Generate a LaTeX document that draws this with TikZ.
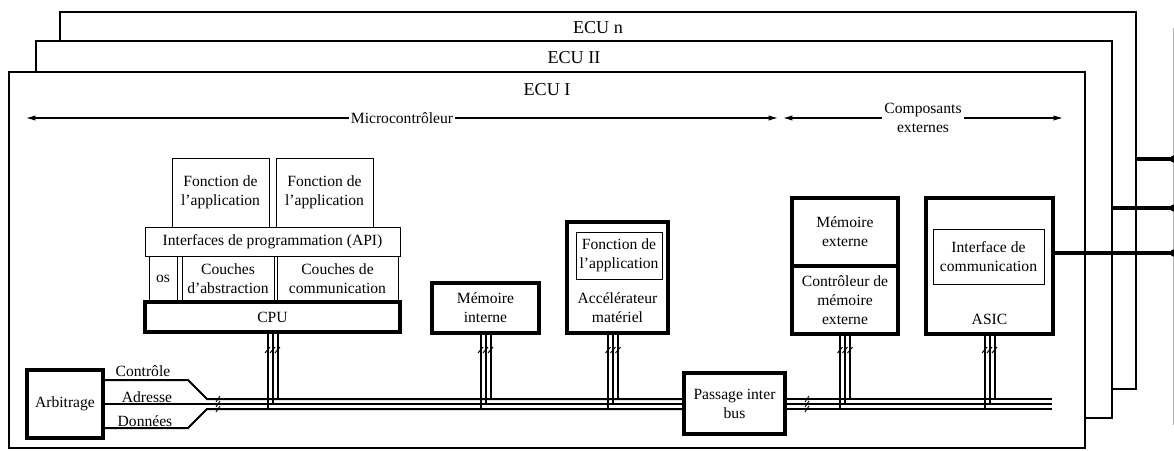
\documentclass[tikz,border=0pt]{standalone}
\usepackage{fontspec}
\setmainfont{Liberation Serif}
\usetikzlibrary{calc,arrows.meta}
\def\blk[#1](#2)(#3,#4)(#5,#6)#7{\node[#1, minimum width={(#5-#3)*0.75pt}, minimum height={(#6-#4)*0.75pt}] (#2) at ({(#3+#5)/2},{(#4+#6)/2}) {#7};}
\def\tap(#1)(#2){\foreach \d/\yb in {-5/409,0/404,5/399}{\draw[bus] (#2+\d,0 |- #1.south) -- (#2+\d,\yb); \draw[tick] (#2+\d-2.5,353) -- (#2+\d+2.5,347);}}

\begin{document}
\begin{tikzpicture}[x=0.75pt, y=-0.75pt,
	every node/.style={font=\fontsize{11.7}{14.3}\selectfont, align=center, inner sep=0pt},
	ecubox/.style={draw, line width=1.2pt, fill=white},
	thinbox/.style={draw, line width=0.7pt},
	thickbox/.style={draw, line width=2.6pt, fill=white},
	bus/.style={line width=1.5pt},
	tick/.style={line width=0.7pt},
	link/.style={line width=2.6pt},
	dimarrow/.style={line width=0.9pt, {Latex[length=7pt,width=4pt]}-{Latex[length=7pt,width=4pt]}}]
			%%%%% START %%%%%
			\useasboundingbox (0,0) rectangle (1174,450);
			
			\blk[ecubox](ecun)(60,12)(1136,389){}
			\blk[ecubox](ecuii)(36,41)(1112,418){}
			\blk[ecubox](ecui)(9,72)(1085,448){}
			\node[anchor=base, font=\fontsize{13.6}{16}\selectfont] (lbln) at (ecun.north |- 0,33) {ECU n};
			\node[anchor=base, font=\fontsize{13.6}{16}\selectfont] (lblii) at (ecuii.north |- 0,63) {ECU II};
			\node[anchor=base, font=\fontsize{13.6}{16}\selectfont] (lbli) at (ecui.north |- 0,95) {ECU I};
			
			\draw[dimarrow] (26,118) -- node[fill=white, inner sep=1.5pt] (micro) {Microcontrôleur} (778,118);
			\draw[dimarrow] (783,118) -- node[fill=white, inner sep=1.5pt] (comp) {Composants\\externes} (1063,118);
			
			% logiciel sur le CPU
			\blk[thinbox](app1)(172,158)(269,227){Fonction de\\l'application}
			\blk[thinbox](app2)(276,158)(373,227){Fonction de\\l'application}
			\blk[thinbox](api)(145,227)(400,256){Interfaces de programmation (API)}
			\blk[thinbox](os)(149,256)(177,302){os}
			\blk[thinbox](abs)(182,256)(274,302){Couches\\d'abstraction}
			\blk[thinbox](com)(277,256)(398,302){Couches de\\communication}
			\blk[thickbox](cpu)(145,302)(400,332){CPU}
			
			\blk[thickbox](memi)(432,283)(539,333){Mémoire\\interne}
			\blk[thickbox](acc)(567,222)(668,333){}
			\blk[thinbox](accf)(576,232)(662,279){Fonction de\\l'application}
			\node (acct) at (617.5,308) {Accélérateur\\matériel};
			
			\blk[thickbox](memx)(792,198)(898,266){Mémoire\\externe}
			\blk[thickbox](ctlx)(792,266)(898,334){Contrôleur de\\mémoire\\externe}
			\blk[thickbox](asic)(926,198)(1053,334){}
			\blk[thinbox](asicf)(933,229)(1044,284){Interface de\\communication}
			\node[anchor=base] (asict) at (989.5,324) {ASIC};
			
			% bus
			\blk[thickbox](arb)(27,370)(103,438){Arbitrage}
			\blk[thickbox](pas)(684,373)(785,434){Passage inter\\bus}
			\draw[bus] (arb.east |- 0,380) -- (188,380) -- (207,399) -- (pas.west |- 0,399);
			\draw[bus] (arb.east |- 0,404) -- (pas.west |- 0,404);
			\draw[bus] (arb.east |- 0,428) -- (188,428) -- (207,409) -- (pas.west |- 0,409);
			\foreach \yb in {399,404,409} \draw[bus] (pas.east |- 0,\yb) -- (1052,\yb);
			\foreach \xb in {218,807} \foreach \yb in {399,404,409} \draw[tick] (\xb-2,\yb+3) -- (\xb+2,\yb-3);
			\node[anchor=base] (ctl) at (143,376) {Contrôle};
			\node[anchor=base] (adr) at (147,402) {Adresse};
			\node[anchor=base] (don) at (145,426) {Données};
			
			\tap(cpu)(272.5)
			\tap(memi)(485.5)
			\tap(acc)(613)
			\tap(ctlx)(845)
			\tap(asic)(989.5)
			
			% liaisons vers l'exterieur
			\coordinate (dotn) at (1174,159);
			\coordinate (dotii) at (1174,208);
			\coordinate (doti) at (1174,253);
			\draw[gray!60, line width=0.6pt] (1173,28) -- (1173,425);
			\draw[link] (ecun.east |- dotn) -- (dotn);
			\draw[link] (ecuii.east |- dotii) -- (dotii);
			\draw[link] (asic.east |- doti) -- (doti);
			\foreach \p in {dotn,dotii,doti} \fill (\p) circle (2.8pt);
			%%%%% END %%%%%
\end{tikzpicture}
\end{document}
